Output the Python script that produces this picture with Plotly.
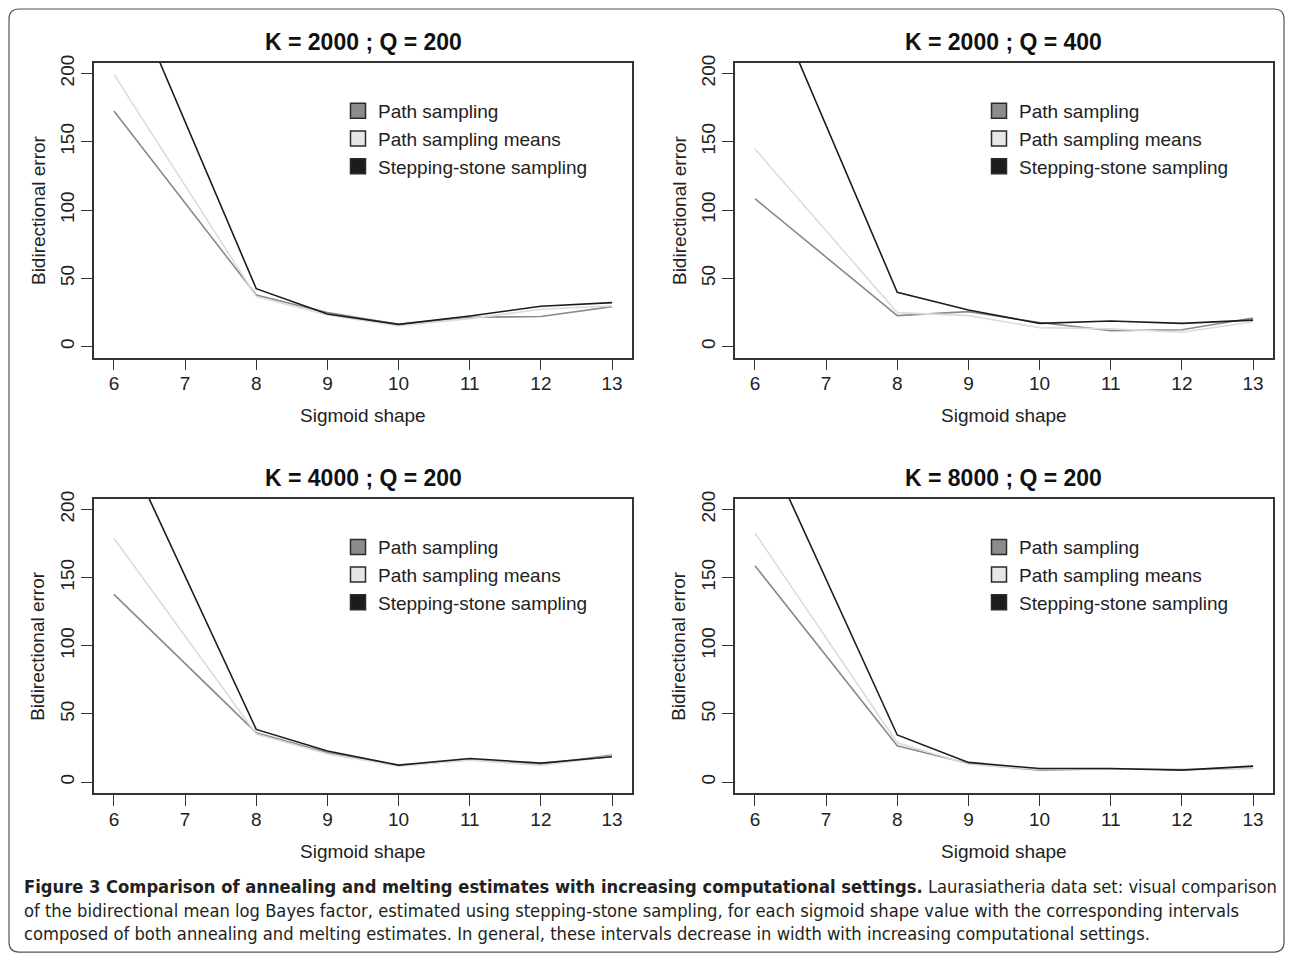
import plotly.graph_objects as go

W, H = 1293, 953
OFF, SC = 8, 0.9915   # measured page offset / vertical scale of the capture

sigmoid_shape = [6, 8, 9, 10, 11, 12, 13]
x_ticks = [6, 7, 8, 9, 10, 11, 12, 13]
y_ticks = [0, 50, 100, 150, 200]
series_names = ["Path sampling", "Path sampling means", "Stepping-stone sampling"]
panel_titles = ["K = 2000 ; Q = 200", "K = 2000 ; Q = 400", "K = 4000 ; Q = 200", "K = 8000 ; Q = 200"]

# K = 2000 ; Q = 200
k2000_q200_path = [172.5, 37.8, 24.9, 16.3, 21.5, 22.0, 29.3]
k2000_q200_means = [199.3, 36.6, 23.2, 15.1, 20.5, 27.3, 29.8]
k2000_q200_stone = [287.0, 42.4, 23.9, 16.3, 22.4, 29.5, 32.2]
# K = 2000 ; Q = 400
k2000_q400_path = [108.3, 22.7, 25.6, 17.6, 11.7, 12.3, 21.0]
k2000_q400_means = [144.7, 24.9, 22.7, 13.9, 13.0, 10.5, 18.2]
k2000_q400_stone = [284.0, 39.8, 26.8, 17.0, 18.8, 17.0, 19.4]
# K = 4000 ; Q = 200
k4000_q200_path = [137.7, 36.3, 21.8, 12.0, 16.4, 13.0, 19.9]
k4000_q200_means = [178.9, 35.3, 20.6, 11.8, 16.2, 12.3, 19.1]
k4000_q200_stone = [263.5, 38.7, 22.8, 12.5, 17.4, 14.0, 18.6]
# K = 8000 ; Q = 200
k8000_q200_path = [158.8, 26.7, 13.7, 8.8, 9.8, 9.3, 10.3]
k8000_q200_means = [182.8, 28.9, 13.2, 9.3, 9.8, 9.6, 10.5]
k8000_q200_stone = [263.0, 34.6, 14.5, 10.0, 10.0, 8.8, 11.8]

panels = [
    [k2000_q200_path, k2000_q200_means, k2000_q200_stone],
    [k2000_q400_path, k2000_q400_means, k2000_q400_stone],
    [k4000_q200_path, k4000_q200_means, k4000_q200_stone],
    [k8000_q200_path, k8000_q200_means, k8000_q200_stone],
]

line_colors = ["#8a8a8a", "#dcdcdc", "#1c1c1c"]
fill_colors = ["#8c8c8c", "#e6e6e6", "#1c1c1c"]

FONT = "Liberation Sans, Arial, Helvetica, sans-serif"
TXT = "#222222"

# panel boxes in target pixels: (left, right, top, bottom)
boxes = [
    (94, 632, 62.5, 357.5),
    (735, 1273, 62.5, 357.5),
    (94, 632, 498.5, 793),
    (735, 1273, 498.5, 793),
]

def px(x):
    return x / W

def py(y):
    return 1 - ((y - OFF) / SC) / H

fig = go.Figure()
layout = dict(
    width=W, height=H,
    margin=dict(l=0, r=0, t=0, b=0),
    paper_bgcolor="white", plot_bgcolor="white",
    font=dict(family=FONT, size=19, color=TXT),
    showlegend=True,
)
annotations = []
legend_names = ["legend", "legend2", "legend3", "legend4"]

for i, (data, box) in enumerate(zip(panels, boxes)):
    l, r, t, b = box
    sfx = "" if i == 0 else str(i + 1)
    xa, ya = "x" + sfx, "y" + sfx
    layout["xaxis" + sfx] = dict(
        domain=[px(l), px(r)], anchor=ya, range=[5.72, 13.28],
        tickmode="array", tickvals=x_ticks, ticktext=[str(v) for v in x_ticks],
        ticks="outside", ticklen=11, tickwidth=1.3, tickcolor="#333",
        showline=True, linecolor="#333", linewidth=1.5, mirror=True,
        showgrid=False, zeroline=False, fixedrange=True,
        tickfont=dict(size=19, color=TXT),
    )
    layout["yaxis" + sfx] = dict(
        domain=[py(b), py(t)], anchor=xa, range=[-8, 208],
        tickmode="array", tickvals=y_ticks, ticktext=[str(v) for v in y_ticks],
        ticks="outside", ticklen=11, tickwidth=1.3, tickcolor="#333",
        tickangle=-90,
        showline=True, linecolor="#333", linewidth=1.5, mirror=True,
        showgrid=False, zeroline=False, fixedrange=True,
        tickfont=dict(size=19, color=TXT),
    )
    for j, vals in enumerate(data):
        fig.add_trace(go.Scatter(
            x=sigmoid_shape, y=vals, mode="lines",
            line=dict(color=line_colors[j], width=1.6),
            xaxis=xa, yaxis=ya, showlegend=False, hoverinfo="skip",
        ))
    for j, name in enumerate(series_names):
        fig.add_trace(go.Scatter(
            x=[None], y=[None], mode="markers", name=name,
            marker=dict(symbol="square", size=15, color=fill_colors[j],
                        line=dict(color="#2a2a2a", width=1.5)),
            xaxis=xa, yaxis=ya, legend=legend_names[i],
            legendgroup=f"p{i}s{j}", showlegend=True,
        ))
    layout[legend_names[i]] = dict(
        x=px(l + 244), y=py(t + 29.5), xanchor="left", yanchor="top",
        bgcolor="rgba(0,0,0,0)", borderwidth=0,
        font=dict(size=19, color=TXT, family=FONT),
        tracegroupgap=0, itemwidth=30,
    )
    cx = (l + r) / 2
    annotations.append(dict(
        text="<b>" + panel_titles[i] + "</b>", x=px(cx), y=py(t - 20.5),
        xref="paper", yref="paper", xanchor="center", yanchor="middle",
        showarrow=False, font=dict(size=23, color="#111", family=FONT),
    ))
    annotations.append(dict(
        text="Sigmoid shape", x=px(cx), y=py(b + 58),
        xref="paper", yref="paper", xanchor="center", yanchor="middle",
        showarrow=False, font=dict(size=19, color=TXT, family=FONT),
    ))
    annotations.append(dict(
        text="Bidirectional error", x=px(l - 56), y=py((t + b) / 2),
        xref="paper", yref="paper", xanchor="center", yanchor="middle",
        textangle=-90, showarrow=False, font=dict(size=19, color=TXT, family=FONT),
    ))

caption = (
    "<b>Figure 3 Comparison of annealing and melting estimates with increasing computational settings.</b>"
    " Laurasiatheria data set: visual comparison<br>"
    "of the bidirectional mean log Bayes factor, estimated using stepping-stone sampling, for each sigmoid shape value with the corresponding intervals<br>"
    "composed of both annealing and melting estimates. In general, these intervals decrease in width with increasing computational settings."
)
annotations.append(dict(
    text=caption, x=px(22), y=py(874), xref="paper", yref="paper",
    xanchor="left", yanchor="top", align="left", showarrow=False,
    font=dict(size=18.2, color="#231f20",
              family="Liberation Sans Narrow, DejaVu Sans Condensed, Roboto Condensed, sans-serif"),
))
layout["annotations"] = annotations

# rounded outer frame
x0, x1, y0, y1, rr = 9, 1284, 9, 952, 10
path = (
    f"M {px(x0 + rr)},{py(y0)} L {px(x1 - rr)},{py(y0)} Q {px(x1)},{py(y0)} {px(x1)},{py(y0 + rr)} "
    f"L {px(x1)},{py(y1 - rr)} Q {px(x1)},{py(y1)} {px(x1 - rr)},{py(y1)} "
    f"L {px(x0 + rr)},{py(y1)} Q {px(x0)},{py(y1)} {px(x0)},{py(y1 - rr)} "
    f"L {px(x0)},{py(y0 + rr)} Q {px(x0)},{py(y0)} {px(x0 + rr)},{py(y0)} Z"
)
layout["shapes"] = [dict(type="path", path=path, xref="paper", yref="paper",
                         line=dict(color="#555555", width=1.2), layer="below")]

fig.update_layout(**layout)

# pull x tick labels slightly closer to the axis, if supported
for k in ["xaxis", "xaxis2", "xaxis3", "xaxis4"]:
    try:
        fig.layout[k].ticklabelstandoff = -3
    except Exception:
        pass

fig.write_html("out.html", config={"displayModeBar": False},
               post_script="document.body.style.margin='0';")
